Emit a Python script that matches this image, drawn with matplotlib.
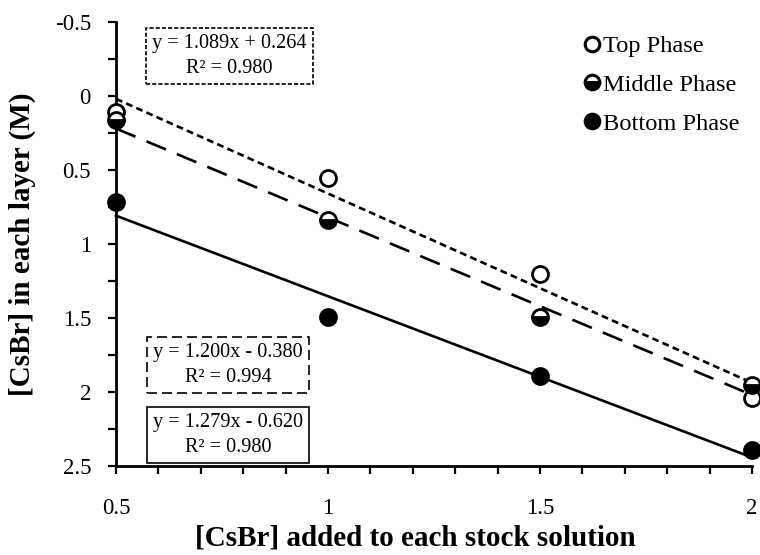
import matplotlib
matplotlib.use("Agg")
import matplotlib.pyplot as plt
from matplotlib.ticker import MultipleLocator
from matplotlib.lines import Line2D
import numpy as np

# Measured concentrations in each phase
added = [0.5, 1.0, 1.5, 2.0]
top_phase = [0.11, 0.555, 1.20, 2.04]
middle_phase = [0.16, 0.84, 1.49, 1.95]
bottom_phase = [0.715, 1.49, 1.895, 2.39]

# Linear fits (slope, intercept, R^2)
fit_top = (1.279, -0.620, 0.980)
fit_middle = (1.200, -0.380, 0.994)
fit_bottom = (1.089, 0.264, 0.980)

xlabel = "[CsBr] added to each stock solution"
ylabel = "[CsBr] in each layer (M)"
legend_labels = ["Top Phase", "Middle Phase", "Bottom Phase"]

plt.rcParams["font.family"] = ["Liberation Serif", "DejaVu Serif"]

fig = plt.figure(figsize=(7.6, 5.55), dpi=100)
W, H = 760, 555
ax = fig.add_axes([116 / W, (H - 466) / H, (752 - 116) / W, (466 - 22) / H])

ax.set_xlim(0.5, 2.0)
ax.set_ylim(2.5, -0.5)

xs = np.array([added[0], added[-1]])
lw = 1.9
ax.plot(xs, fit_top[0] * xs + fit_top[1], color="black", lw=lw,
        dashes=(2.6, 1.6), zorder=2, clip_on=False)
ax.plot(xs, fit_middle[0] * xs + fit_middle[1], color="black", lw=lw,
        dashes=(8, 4.5), zorder=2, clip_on=False)
ax.plot(xs, fit_bottom[0] * xs + fit_bottom[1], color="black", lw=lw,
        zorder=2, clip_on=False)

ms = 11.5
mew = 2.0
ax.plot(added, top_phase, "o", ms=ms, mfc="white", mec="black", mew=mew,
        zorder=3, clip_on=False)
ax.plot(added, middle_phase, "o", ms=ms, fillstyle="bottom", mfc="black",
        markerfacecoloralt="white", mec="black", mew=mew, zorder=3, clip_on=False)
ax.plot(added, bottom_phase, "o", ms=ms, mfc="black", mec="black", mew=mew,
        zorder=3, clip_on=False)

# Legend
lms = 10.5
handles = [
    Line2D([], [], ls="none", marker="o", ms=lms, mfc="white", mec="black", mew=2.2),
    Line2D([], [], ls="none", marker="o", ms=lms, fillstyle="bottom", mfc="black",
           markerfacecoloralt="white", mec="black", mew=2.2),
    Line2D([], [], ls="none", marker="o", ms=lms, mfc="black", mec="black", mew=2.2),
]
ax.legend(handles, legend_labels,
          loc="upper left", bbox_to_anchor=(585 / W, (H - 35) / H),
          bbox_transform=fig.transFigure, frameon=False, fontsize=17.6,
          handlelength=0.6, handletextpad=0.15, labelspacing=0.68,
          borderpad=0, borderaxespad=0)

# Equation boxes
def eq_box(xc, yc, fit, ls):
    s = "y = {:.3f}x {} {:.3f}\nR\u00b2 = {:.3f}".format(
        fit[0], "+" if fit[1] >= 0 else "-", abs(fit[1]), fit[2])
    fig.text(xc / W, (H - yc) / H, s, ha="center", va="center",
             multialignment="center", fontsize=14.6, linespacing=1.4,
             bbox=dict(boxstyle="square,pad=0.3", fc="white", ec="black",
                       lw=1.2, ls=ls))

eq_box(229.5, 56, fit_bottom, (0, (2.5, 1.2)))
eq_box(228, 365, fit_middle, (0, (6, 3)))
eq_box(228, 435, fit_top, "-")

# Axes styling
for side in ("top", "right"):
    ax.spines[side].set_visible(False)
for side in ("left", "bottom"):
    ax.spines[side].set_linewidth(2.0)

ax.xaxis.set_major_locator(MultipleLocator(0.5))
ax.xaxis.set_minor_locator(MultipleLocator(0.1))
ax.yaxis.set_major_locator(MultipleLocator(0.5))
ax.yaxis.set_minor_locator(MultipleLocator(0.25))
ax.xaxis.set_major_formatter(plt.FuncFormatter(lambda v, p: "{:g}".format(v)))
ax.yaxis.set_major_formatter(plt.FuncFormatter(lambda v, p: "{:g}".format(v)))

ax.tick_params(axis="both", which="both", direction="out", width=1.6,
               length=6, labelsize=16.5)
ax.tick_params(axis="x", which="major", pad=17)
ax.tick_params(axis="y", which="major", pad=12)

fig.text(415 / W, (H - 538) / H, xlabel, ha="center", va="center",
         fontsize=21, fontweight="bold")
fig.text(22 / W, (H - 244) / H, ylabel, ha="center", va="center",
         fontsize=21, fontweight="bold", rotation=90)

fig.savefig("out.png", dpi=100)
